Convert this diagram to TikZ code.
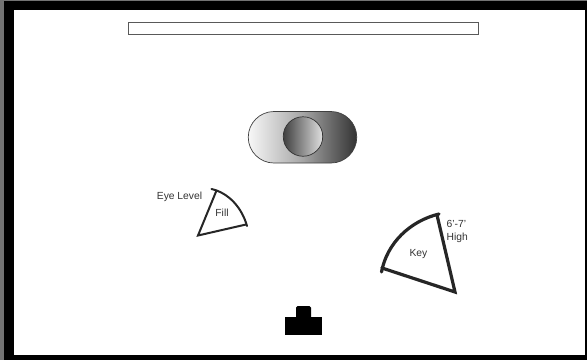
\documentclass[tikz,border=0pt]{standalone}
\usepackage{fontspec}
\setmainfont{Liberation Sans}
\begin{document}
\begin{tikzpicture}[x=1pt,y=-1pt,
  sector/.style={line join=miter,line cap=round,draw=black!85},
  lbl/.style={inner sep=0pt,font=\fontsize{10.3}{12.5}\selectfont,text=black!80,align=left}]
\useasboundingbox (0,0) rectangle (587,360);
\fill[black] (0,0) rectangle (587,360);
\fill[black!55] (0,0) rectangle (4,360);
\fill[black!55] (0,0) rectangle (587,1);
\fill[white] (14,10) rectangle (585,355);
% screen bar
\draw[draw=black!65,fill=white,line width=0.9pt] (128,22.5) rectangle (478,34);
% pill
\draw[draw=black!75,line width=0.7pt,left color=white!97!black,right color=black!80,middle color=black!35]
  (274,111.5) -- (331,111.5) arc[start angle=-90,end angle=90,radius=25.75] -- (274,163) arc[start angle=90,end angle=270,radius=25.75] -- cycle;
\node[circle,minimum size=39.5pt,inner sep=0pt,draw=black!80,line width=0.7pt,left color=black!75,right color=black!12] (sub) at (303,136.5) {};
% Fill sector
\coordinate (fa) at (198,235.5);
\coordinate (fb) at (216.5,190.5);
\coordinate (fc) at (246,224.5);
\draw[sector,line width=2pt] (fb) -- (fa) -- (fc);
\draw[sector,line width=2pt] (211.5,189) .. controls (229,193) and (242,208) .. (247,226);
\node[lbl] (eye) at (179.5,197) {Eye Level};
\node[lbl] (fill) at (222,213) {Fill};
% Key sector
\coordinate (ka) at (455,292);
\coordinate (kb) at (437,215);
\coordinate (kc) at (382,268);
\draw[sector,line width=3.2pt] (kb) -- (ka) -- (kc);
\draw[sector,line width=3.2pt] (381.5,272) .. controls (387,243) and (410,221) .. (439,214);
\node[lbl] (key) at (418.5,254) {Key};
\node[lbl,anchor=north west] (high) at (446.5,220.5) {6'-7'\\High};
% camera
\fill[black,rounded corners=1.5pt] (296,306) rectangle (311,320);
\fill[black] (285,317) rectangle (322,335);
\end{tikzpicture}
\end{document}
